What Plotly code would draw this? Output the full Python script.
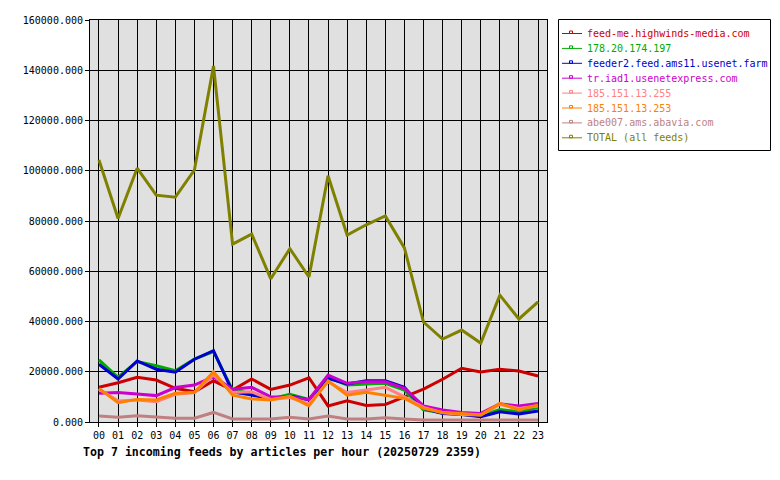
import plotly.graph_objects as go

hours = [f"{h:02d}" for h in range(24)]

feed_names = [
    "feed-me.highwinds-media.com",
    "178.20.174.197",
    "feeder2.feed.ams11.usenet.farm",
    "tr.iad1.usenetexpress.com",
    "185.151.13.255",
    "185.151.13.253",
    "abe007.ams.abavia.com",
    "TOTAL (all feeds)",
]
feed_colors = ["#cc0000", "#00aa00", "#0000cc", "#cc00cc",
               "#ff8080", "#ff8000", "#c08080", "#808000"]

highwinds = [13800, 15600, 17800, 16700, 13400, 12000, 16400, 12700, 17100, 13000, 14700, 17600,
             6400, 8400, 6600, 7000, 10000, 13100, 17000, 21400, 19900, 21000, 20300, 18300]
ip178 = [24700, 17800, 24000, 22400, 20400, 25000, 28000, 12700, 11400, 9200, 11000, 9000,
         17800, 14700, 15100, 15400, 12700, 4800, 3700, 3000, 2400, 5000, 4100, 5800]
feeder2 = [23000, 17100, 24300, 21000, 19800, 25000, 28400, 12000, 10700, 9200, 10300, 8800,
           17400, 15100, 16400, 16400, 13800, 5400, 3400, 3000, 2100, 4100, 3200, 4400]
usenetexpress = [11400, 11700, 11100, 10500, 13700, 14700, 18000, 13000, 13800, 10000, 10000, 9000,
                 18700, 15400, 16000, 16000, 13400, 6400, 4800, 3800, 3400, 7200, 6400, 7400]
ip255 = [13000, 8400, 8800, 8100, 11000, 11700, 18700, 11700, 12000, 9000, 9700, 7200,
         16000, 11700, 12700, 13800, 10000, 5800, 3700, 3000, 2800, 7000, 5400, 6400]
ip253 = [13400, 7700, 9000, 8800, 11400, 11700, 20000, 10700, 9200, 8800, 10300, 6400,
         16400, 10700, 11800, 10700, 9400, 5400, 3800, 3400, 2800, 7400, 4800, 6800]
abavia = [2400, 1900, 2500, 1900, 1500, 1500, 3800, 1200, 1200, 1200, 1900, 1200,
          2400, 1200, 1200, 1700, 1200, 800, 800, 800, 800, 800, 800, 800]
total = [104300, 81000, 101000, 90300, 89500, 100300, 141700, 70800, 74800, 57000, 69000, 57700,
         98000, 74400, 78500, 82000, 69300, 39800, 33000, 36600, 31400, 50500, 41000, 47800]

series = [highwinds, ip178, feeder2, usenetexpress, ip255, ip253, abavia, total]

y_ticks = [0, 20000, 40000, 60000, 80000, 100000, 120000, 140000, 160000]
title_text = "Top 7 incoming feeds by articles per hour (20250729 2359)"

FONT = "DejaVu Sans Mono"

# plot area in pixels
PL, PR, PT, PB = 90, 547, 20, 422
W, H = 780, 480


def px_x(p):
    return (p - PL) / (PR - PL)


def px_y(p):
    return (PB - p) / (PB - PT)


fig = go.Figure()
for name, color, vals in zip(feed_names, feed_colors, series):
    fig.add_trace(go.Scatter(
        x=hours, y=vals, mode="lines", name=name,
        line=dict(color=color, width=3), showlegend=False, hoverinfo="skip"))

# custom legend (box, sample line, small marker, coloured label)
shapes = [dict(type="rect", xref="paper", yref="paper",
               x0=px_x(558.5), x1=px_x(770.5), y0=px_y(150.5), y1=px_y(19.5),
               line=dict(color="black", width=1), fillcolor="white", layer="below")]
annotations = []
for i, (name, color) in enumerate(zip(feed_names, feed_colors)):
    yc = 33.5 + 14.9 * i
    shapes.append(dict(type="line", xref="paper", yref="paper",
                       x0=px_x(562), x1=px_x(582), y0=px_y(yc), y1=px_y(yc),
                       line=dict(color=color, width=1)))
    shapes.append(dict(type="rect", xref="paper", yref="paper",
                       x0=px_x(569.5), x1=px_x(572.5), y0=px_y(yc), y1=px_y(yc - 2.5),
                       line=dict(color=color, width=1), fillcolor="rgba(0,0,0,0)"))
    annotations.append(dict(xref="paper", yref="paper", x=px_x(584.5), y=px_y(yc),
                            xanchor="left", yanchor="middle", showarrow=False,
                            text=name, font=dict(family=FONT, size=10, color=color)))

fig.update_layout(
    width=W, height=H,
    margin=dict(l=PL, r=W - PR, t=PT, b=H - PB, autoexpand=False),
    paper_bgcolor="white",
    plot_bgcolor="#e0e0e0",
    font=dict(family=FONT, size=10, color="black"),
    title=dict(text=f"<b>{title_text}</b>", x=83 / W, xanchor="left",
               y=1 - 452 / H, yanchor="middle",
               font=dict(family=FONT, size=11.6, color="black")),
    showlegend=False,
    shapes=shapes,
    annotations=annotations,
)
fig.update_xaxes(
    type="category", range=[-0.47, 23.47],
    showgrid=True, gridcolor="black", gridwidth=1,
    showline=True, linecolor="black", linewidth=1, mirror=True,
    ticks="outside", ticklen=4, tickcolor="black",
    tickfont=dict(family=FONT, size=10, color="black"),
    zeroline=False, fixedrange=True,
)
fig.update_yaxes(
    range=[0, 160000], tickvals=y_ticks, tickformat=".3f",
    showgrid=True, gridcolor="black", gridwidth=1,
    showline=True, linecolor="black", linewidth=1, mirror=True,
    ticks="outside", ticklen=4, tickcolor="black",
    tickfont=dict(family=FONT, size=10, color="black"),
    zeroline=False, fixedrange=True,
)

fig.write_html("out.html")
